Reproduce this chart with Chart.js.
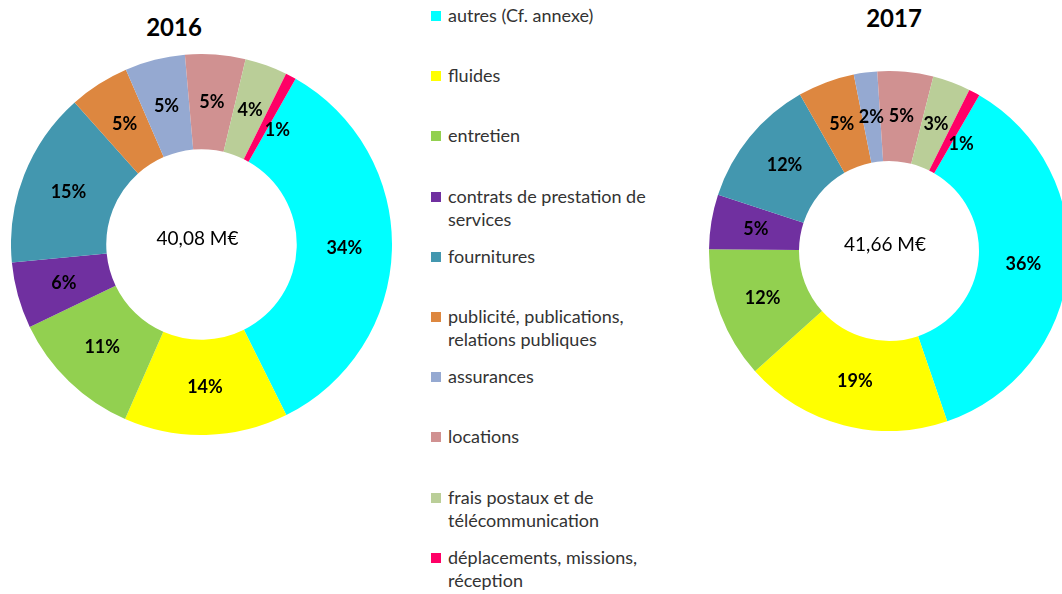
<!DOCTYPE html>
<html lang="fr">
<head>
<meta charset="utf-8">
<script src="https://cdn.jsdelivr.net/npm/chart.js@4.4.0/dist/chart.umd.min.js"></script>
<style>
  html, body { margin: 0; padding: 0; background: #fff; }
  body { width: 1062px; height: 594px; position: relative; overflow: hidden; font-family: Lato, "Open Sans", sans-serif; }
  .titre { position: absolute; font-weight: bold; font-size: 24px; color: #000; transform: translate(-50%, -50%); white-space: nowrap; }
  .donut { position: absolute; }
  #legend-container { position: absolute; left: 431px; top: 4px; }
  #legend-container ul { list-style: none; margin: 0; padding: 0; }
  #legend-container li { height: 60.2px; display: flex; align-items: flex-start; }
  #legend-container .carre { width: 10px; height: 10px; margin-top: 7px; margin-right: 7px; flex: none; }
  #legend-container .txt { font-size: 18px; line-height: 23px; color: #333; white-space: pre-line; }
</style>
</head>
<body>
<div class="titre" style="left:174px; top:26px;">2016</div>
<div class="titre" style="left:894px; top:17px;">2017</div>
<div class="donut" style="left:11px; top:54px; width:381px; height:381px;"><canvas id="chart2016"></canvas></div>
<div class="donut" style="left:709px; top:71px; width:360px; height:360px;"><canvas id="chart2017"></canvas></div>
<div id="legend-container"></div>

<script>
// Catégories de dépenses (même ordre que la légende)
const categories = [
  'autres (Cf. annexe)',
  'fluides',
  'entretien',
  'contrats de prestation de\nservices',
  'fournitures',
  'publicité, publications,\nrelations publiques',
  'assurances',
  'locations',
  'frais postaux et de\ntélécommunication',
  'déplacements, missions,\nréception'
]

const couleurs = ['#00FFFF', '#FFFF00', '#92D050', '#7030A0', '#4397AF', '#DD8740', '#95A9D1', '#D09191', '#BACE98', '#FF0066']

const parts2016 = [34.4, 13.9, 11.3, 5.6, 14.9, 5.1, 5.1, 5.1, 3.6, 0.9]
const parts2017 = [36.4, 18.6, 11.8, 4.9, 11.7, 5.1, 2.1, 5.0, 3.4, 1.0]

const total2016 = '40,08 M€'
const total2017 = '41,66 M€'

// Pourcentages écrits sur chaque part
const sliceLabels = {
  id: 'sliceLabels',
  afterDatasetsDraw(chart) {
    const ctx = chart.ctx
    const meta = chart.getDatasetMeta(0)
    const values = chart.data.datasets[0].data
    ctx.save()
    ctx.font = 'bold 18px Lato, sans-serif'
    ctx.fillStyle = '#000'
    ctx.textAlign = 'center'
    ctx.textBaseline = 'middle'
    meta.data.forEach((arc, i) => {
      const p = arc.getProps(['x', 'y', 'startAngle', 'endAngle', 'innerRadius', 'outerRadius'], true)
      let a = (p.startAngle + p.endAngle) / 2
      let r = (p.innerRadius + p.outerRadius) / 2
      // les toutes petites parts : étiquette décalée vers la part suivante
      if (values[i] < 2) {
        a += 0.1
        r -= 6
      }
      ctx.fillText(Math.round(values[i]) + '%', p.x + Math.cos(a) * r, p.y + Math.sin(a) * r)
    })
    ctx.restore()
  }
}

// Montant total au centre
const centerText = {
  id: 'centerText',
  afterDraw(chart, args, options) {
    const arc = chart.getDatasetMeta(0).data[0]
    if (!arc) return
    const ctx = chart.ctx
    ctx.save()
    ctx.font = '19px Lato, sans-serif'
    ctx.fillStyle = '#000'
    ctx.textAlign = 'center'
    ctx.textBaseline = 'middle'
    ctx.fillText(options.text, arc.x - 4, arc.y - 6)
    ctx.restore()
  }
}

function creerDonut(id, valeurs, total, rotation) {
  return new Chart(document.getElementById(id), {
    type: 'doughnut',
    data: {
      labels: categories,
      datasets: [{
        data: valeurs,
        backgroundColor: couleurs,
        borderWidth: 0
      }]
    },
    options: {
      responsive: true,
      maintainAspectRatio: false,
      animation: false,
      cutout: '50%',
      rotation: rotation,
      layout: { padding: 0 },
      plugins: {
        legend: { display: false },
        tooltip: { enabled: false },
        centerText: { text: total }
      }
    },
    plugins: [sliceLabels, centerText]
  })
}

creerDonut('chart2016', parts2016, total2016, 29.6)
creerDonut('chart2017', parts2017, total2017, 30.1)

// Légende commune en HTML
const ul = document.createElement('ul')
categories.forEach((nom, i) => {
  const li = document.createElement('li')
  const carre = document.createElement('span')
  carre.className = 'carre'
  carre.style.background = couleurs[i]
  const txt = document.createElement('span')
  txt.className = 'txt'
  txt.textContent = nom
  li.appendChild(carre)
  li.appendChild(txt)
  ul.appendChild(li)
})
document.getElementById('legend-container').appendChild(ul)
</script>
</body>
</html>
